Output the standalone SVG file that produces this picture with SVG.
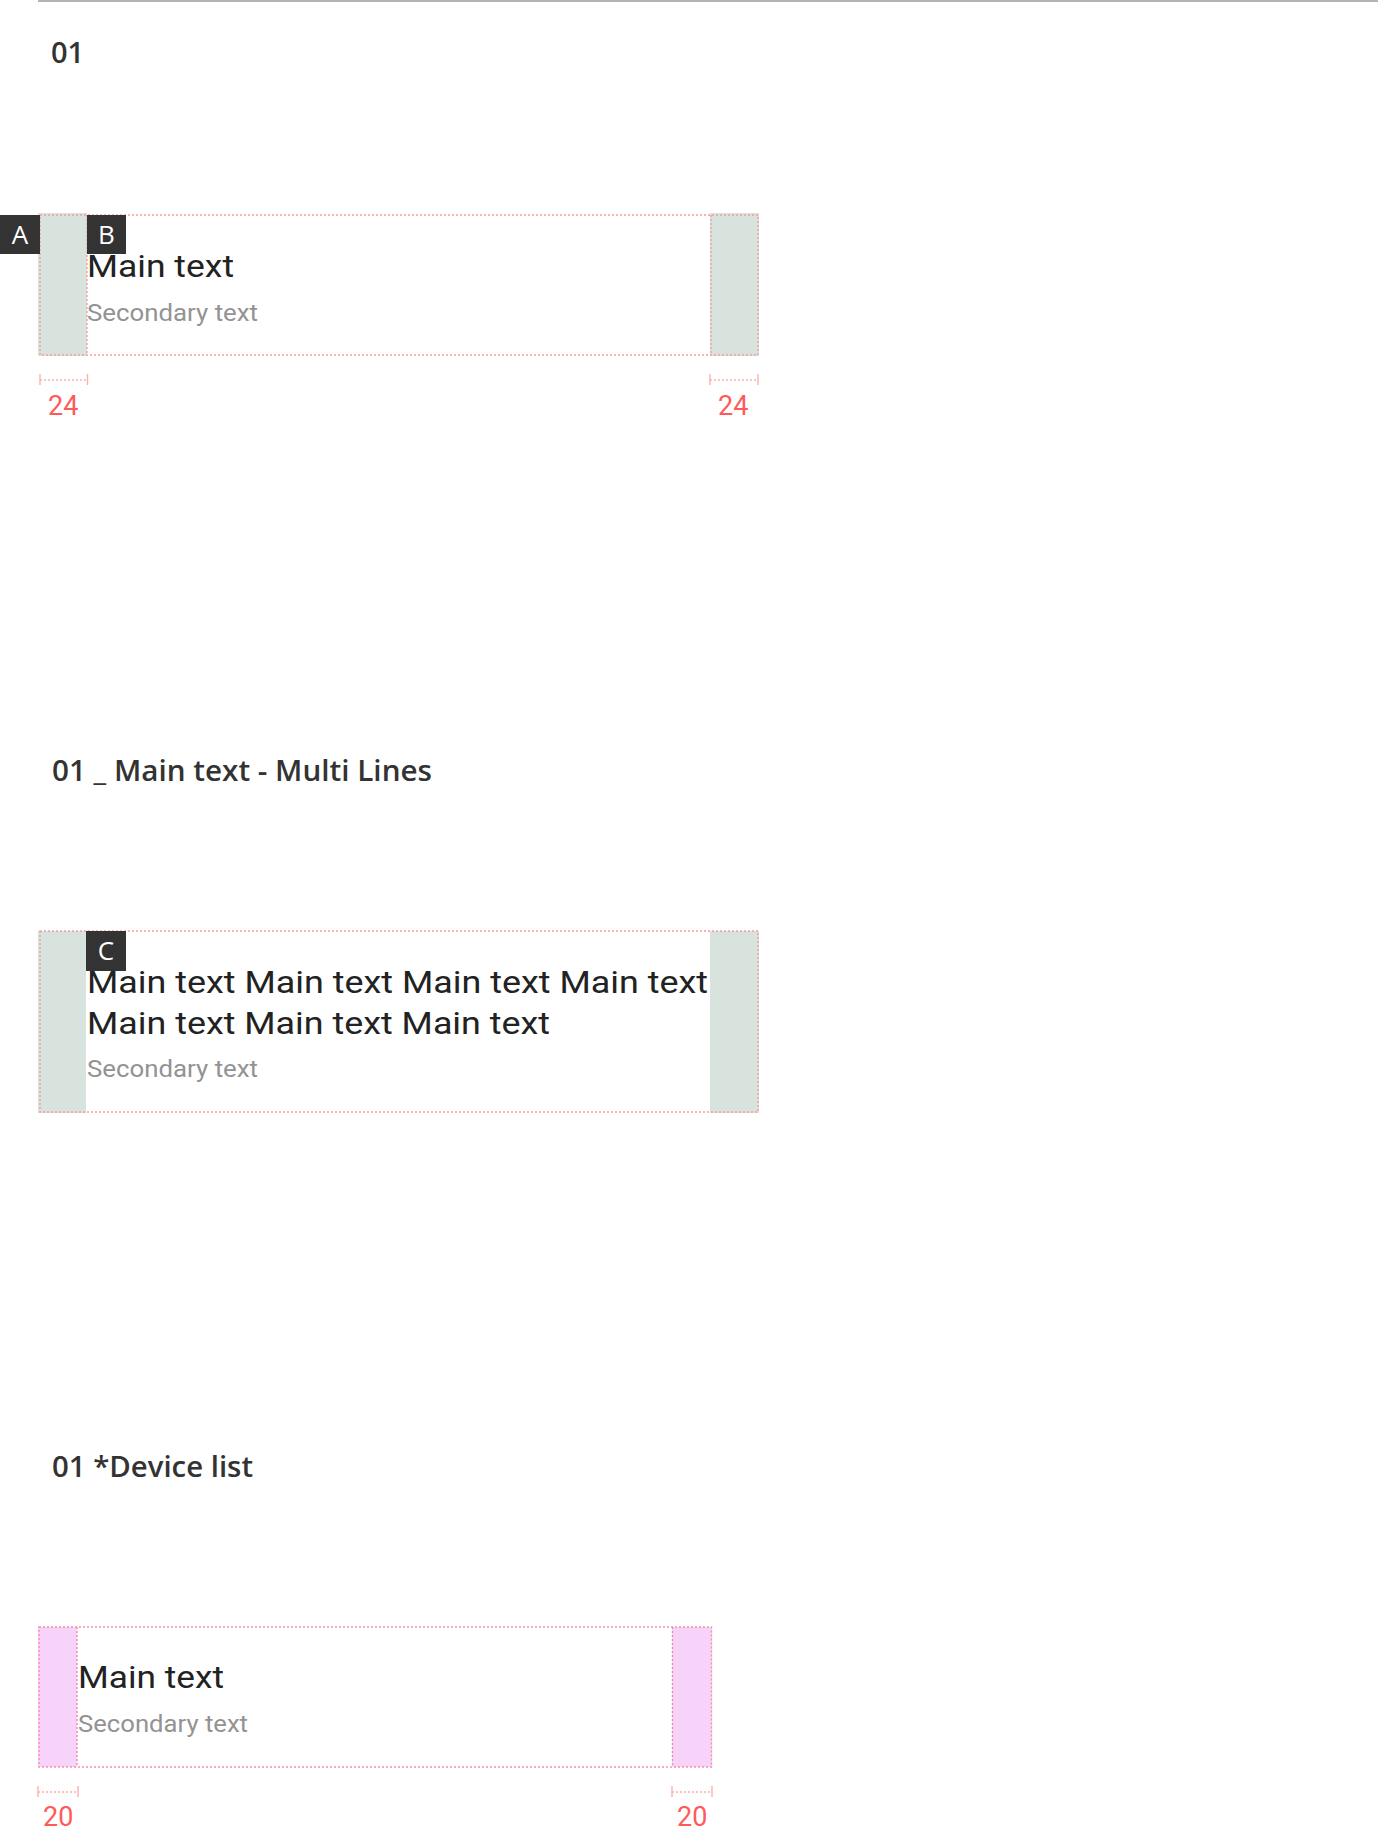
<svg xmlns="http://www.w3.org/2000/svg" width="1378" height="1832" viewBox="0 0 1378 1832">
<style>
.bg{fill:#ffffff}
.h{font-family:"Open Sans","Noto Sans",sans-serif;font-weight:600;font-size:29px;fill:#333333}
.main{font-family:Roboto,"Liberation Sans",sans-serif;font-size:32px;fill:#222222}
.sec{font-family:Roboto,"Liberation Sans",sans-serif;font-size:24px;fill:#939393}
.badge{fill:#333333}
.bt{font-family:"Open Sans","Noto Sans",sans-serif;font-size:26px;fill:#ffffff;text-anchor:middle}
.dot{fill:none;stroke:#f59d9d;stroke-width:1.4;stroke-dasharray:2 2}
.green{fill:#d7e3dc}
.pink{fill:#f7d3fa}
.meas{fill:none;stroke:#fbb0b0;stroke-width:1.4;stroke-dasharray:2 2}
.tick{stroke:#fbb0b0;stroke-width:1.4}
.num{font-family:Roboto,"Liberation Sans",sans-serif;font-size:27px;fill:#ff5a5a}
</style>
<rect class="bg" x="0" y="0" width="1378" height="1832"/>
<line x1="38" y1="1" x2="1378" y2="1" stroke="#b3b3b3" stroke-width="2"/>

<g id="heading-01"><text class="h" x="51" y="63">01</text></g>

<g id="item-01">
  <rect class="green" x="38" y="213" width="49" height="143"/>
  <rect class="green" x="710" y="213" width="49" height="143"/>
  <rect class="dot" x="40" y="215" width="718" height="140"/>
  <line class="dot" x1="87" y1="215" x2="87" y2="355"/>
  <line class="dot" x1="711" y1="215" x2="711" y2="355"/>
  <text class="main" x="87" y="277" textLength="147" lengthAdjust="spacingAndGlyphs">Main text</text>
  <text class="sec" x="87" y="321" textLength="171" lengthAdjust="spacingAndGlyphs">Secondary text</text>
</g>
<g id="badge-A"><rect class="badge" x="0" y="215" width="40" height="39"/><text class="bt" x="20" y="244">A</text></g>
<g id="badge-B"><rect class="badge" x="87" y="215" width="39" height="39"/><text class="bt" x="106.5" y="244">B</text></g>
<g id="measure-01">
  <line class="meas" x1="40" y1="380" x2="87" y2="380"/>
  <line class="tick" x1="40" y1="374" x2="40" y2="385"/>
  <line class="tick" x1="87.5" y1="374" x2="87.5" y2="385"/>
  <text class="num" x="48" y="415">24</text>
  <line class="meas" x1="710" y1="380" x2="758" y2="380"/>
  <line class="tick" x1="710" y1="374" x2="710" y2="385"/>
  <line class="tick" x1="758" y1="374" x2="758" y2="385"/>
  <text class="num" x="718" y="415">24</text>
</g>

<g id="heading-multi"><text class="h" x="52" y="781" textLength="380" lengthAdjust="spacingAndGlyphs">01 _ Main text - Multi Lines</text></g>

<g id="item-multi">
  <rect class="green" x="38" y="931" width="48" height="182"/>
  <rect class="green" x="710" y="931" width="49" height="182"/>
  <rect class="dot" x="40" y="931" width="718" height="181"/>
  <text class="main" x="87" y="993" textLength="621" lengthAdjust="spacingAndGlyphs">Main text Main text Main text Main text</text>
  <text class="main" x="87" y="1034" textLength="463" lengthAdjust="spacingAndGlyphs">Main text Main text Main text</text>
  <text class="sec" x="87" y="1077" textLength="171" lengthAdjust="spacingAndGlyphs">Secondary text</text>
</g>
<g id="badge-C"><rect class="badge" x="86" y="931" width="40" height="40"/><text class="bt" x="106" y="960">C</text></g>

<g id="heading-device"><text class="h" x="52" y="1477" textLength="201" lengthAdjust="spacingAndGlyphs">01 *Device list</text></g>

<g id="item-device">
  <rect class="pink" x="38" y="1627" width="39" height="140"/>
  <rect class="pink" x="672" y="1627" width="40" height="140"/>
  <rect class="dot" x="39" y="1627" width="672.5" height="140" style="stroke:#f591a8"/>
  <line class="dot" x1="77" y1="1627" x2="77" y2="1767" style="stroke:#f08aa8"/>
  <line class="dot" x1="672.5" y1="1627" x2="672.5" y2="1767" style="stroke:#f08aa8"/>
  <text class="main" x="78" y="1688" textLength="146" lengthAdjust="spacingAndGlyphs">Main text</text>
  <text class="sec" x="78" y="1732" textLength="170" lengthAdjust="spacingAndGlyphs">Secondary text</text>
</g>
<g id="measure-device">
  <line class="meas" x1="38" y1="1792" x2="77" y2="1792"/>
  <line class="tick" x1="38" y1="1786" x2="38" y2="1797"/>
  <line class="tick" x1="78" y1="1786" x2="78" y2="1797"/>
  <text class="num" x="43" y="1826">20</text>
  <line class="meas" x1="672" y1="1792" x2="712" y2="1792"/>
  <line class="tick" x1="672" y1="1786" x2="672" y2="1797"/>
  <line class="tick" x1="712" y1="1786" x2="712" y2="1797"/>
  <text class="num" x="677" y="1826">20</text>
</g>
<g id="connectors"/>
</svg>
